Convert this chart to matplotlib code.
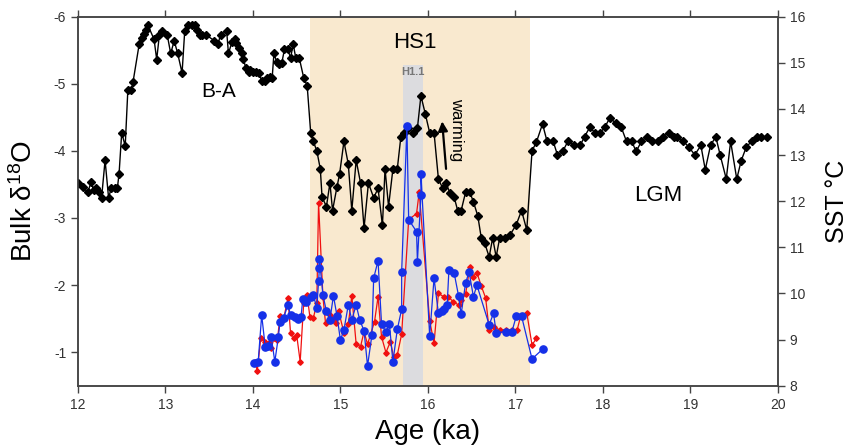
import matplotlib
matplotlib.use('Agg')
import matplotlib.pyplot as plt

plt.rcParams['font.family'] = ['Liberation Sans', 'DejaVu Sans']
plt.rcParams['mathtext.fontset'] = 'custom'
plt.rcParams['mathtext.rm'] = 'Liberation Sans'
plt.rcParams['mathtext.it'] = 'Liberation Sans'
plt.rcParams['axes.unicode_minus'] = False

# bulk d18O record (left axis)
d18o_age = [12.00, 12.06, 12.11, 12.15, 12.18, 12.21, 12.24, 12.27, 12.31, 12.35,
            12.38, 12.42, 12.45, 12.47, 12.50, 12.54, 12.57, 12.61, 12.63, 12.70,
            12.73, 12.75, 12.78, 12.80, 12.87, 12.90, 12.93, 12.96, 13.02, 13.06,
            13.10, 13.14, 13.19, 13.22, 13.26, 13.30, 13.34, 13.36, 13.39, 13.42,
            13.46, 13.56, 13.60, 13.63, 13.70, 13.72, 13.76, 13.79, 13.81, 13.84,
            13.87, 13.89, 13.92, 13.95, 13.97, 14.00, 14.04, 14.07, 14.10, 14.14,
            14.16, 14.19, 14.22, 14.24, 14.27, 14.30, 14.33, 14.36, 14.40, 14.43,
            14.46, 14.49, 14.53, 14.58, 14.62, 14.66, 14.69, 14.73, 14.77, 14.79,
            14.84, 14.88, 14.91, 14.96, 14.99, 15.04, 15.09, 15.13, 15.18, 15.23,
            15.27, 15.32, 15.38, 15.43, 15.48, 15.51, 15.55, 15.60, 15.65, 15.69,
            15.73, 15.77, 15.83, 15.88, 15.92, 15.97, 16.02, 16.07, 16.12, 16.17,
            16.21, 16.25, 16.30, 16.34, 16.38, 16.43, 16.48, 16.52, 16.57, 16.61,
            16.65, 16.70, 16.74, 16.78, 16.82, 16.88, 16.94, 17.01, 17.07, 17.13,
            17.19, 17.24, 17.31, 17.36, 17.43, 17.48, 17.54, 17.60, 17.67, 17.74,
            17.79, 17.85, 17.91, 17.97, 18.02, 18.08, 18.15, 18.21, 18.27, 18.33,
            18.38, 18.44, 18.50, 18.56, 18.63, 18.69, 18.75, 18.81, 18.85, 18.92,
            18.98, 19.05, 19.12, 19.17, 19.23, 19.29, 19.34, 19.41, 19.46, 19.53,
            19.58, 19.64, 19.70, 19.76, 19.81, 19.87]
d18o_val = [-3.52, -3.46, -3.38, -3.53, -3.41, -3.44, -3.39, -3.30, -3.86, -3.30,
            -3.44, -3.44, -3.44, -3.66, -4.27, -4.07, -4.90, -4.90, -5.03, -5.59,
            -5.68, -5.74, -5.80, -5.87, -5.66, -5.36, -5.72, -5.78, -5.73, -5.45,
            -5.64, -5.45, -5.16, -5.78, -5.87, -5.87, -5.87, -5.80, -5.73, -5.73,
            -5.73, -5.64, -5.59, -5.73, -5.78, -5.45, -5.62, -5.66, -5.60, -5.53,
            -5.46, -5.37, -5.23, -5.17, -5.21, -5.18, -5.17, -5.16, -5.04, -5.04,
            -5.08, -5.10, -5.09, -5.45, -5.33, -5.30, -5.31, -5.51, -5.51, -5.38,
            -5.59, -5.38, -5.38, -5.09, -4.97, -4.27, -4.14, -4.00, -3.73, -3.31,
            -3.17, -3.52, -3.11, -3.46, -3.65, -4.14, -3.80, -3.11, -3.86, -3.52,
            -2.85, -3.52, -3.30, -3.44, -2.89, -3.73, -3.17, -3.73, -3.73, -4.20,
            -4.27, -4.34, -4.27, -4.34, -4.82, -4.55, -4.27, -4.27, -3.58, -3.44,
            -3.52, -3.37, -3.31, -3.11, -3.11, -3.38, -3.38, -3.24, -3.03, -2.70,
            -2.62, -2.42, -2.70, -2.42, -2.70, -2.70, -2.75, -2.90, -3.11, -2.82,
            -4.00, -4.13, -4.40, -4.15, -4.15, -3.94, -3.99, -4.14, -4.08, -4.08,
            -4.21, -4.35, -4.27, -4.27, -4.35, -4.49, -4.41, -4.35, -4.14, -4.14,
            -3.99, -4.14, -4.21, -4.14, -4.14, -4.21, -4.27, -4.20, -4.21, -4.14,
            -4.06, -3.94, -4.08, -3.72, -4.08, -4.21, -3.94, -3.58, -4.14, -3.58,
            -3.85, -4.06, -4.14, -4.20, -4.20, -4.20]

# SST records (right axis)
red_age = [14.02, 14.05, 14.09, 14.14, 14.18, 14.21, 14.24, 14.28, 14.31, 14.35,
           14.40, 14.43, 14.47, 14.50, 14.54, 14.58, 14.62, 14.65, 14.69, 14.73,
           14.75, 14.80, 14.83, 14.88, 14.92, 14.95, 14.98, 15.04, 15.09, 15.13,
           15.18, 15.23, 15.27, 15.31, 15.39, 15.43, 15.47, 15.52, 15.57, 15.61,
           15.65, 15.70, 15.78, 15.87, 15.90, 16.02, 16.07, 16.12, 16.18, 16.23,
           16.29, 16.35, 16.38, 16.43, 16.48, 16.51, 16.56, 16.61, 16.66, 16.70,
           16.75, 16.82, 16.89, 16.96, 17.02, 17.06, 17.13, 17.19, 17.24]
red_sst = [8.52, 8.33, 9.04, 8.95, 8.93, 8.81, 9.03, 8.99, 9.52, 9.44,
           9.90, 9.14, 9.04, 9.10, 8.52, 9.79, 9.97, 9.50, 9.46, 9.79,
           11.97, 9.93, 9.35, 9.53, 9.45, 9.37, 9.61, 9.15, 9.33, 9.95,
           8.90, 8.85, 9.17, 8.90, 9.39, 9.93, 9.06, 8.72, 8.95, 8.62,
           8.67, 9.12, 11.60, 11.73, 12.19, 9.41, 8.92, 10.00, 9.93, 9.93,
           9.82, 9.75, 9.86, 9.98, 10.58, 10.36, 10.45, 10.16, 9.90, 9.21,
           9.28, 9.21, 9.21, 9.21, 9.21, 9.51, 9.58, 8.88, 9.03]

blue_age = [14.01, 14.06, 14.10, 14.14, 14.17, 14.21, 14.25, 14.29, 14.31, 14.35,
            14.40, 14.43, 14.48, 14.51, 14.55, 14.57, 14.61, 14.66, 14.69, 14.73,
            14.75, 14.76, 14.76, 14.80, 14.84, 14.88, 14.92, 14.96, 15.00, 15.04,
            15.09, 15.13, 15.18, 15.22, 15.27, 15.31, 15.36, 15.38, 15.43, 15.47,
            15.52, 15.56, 15.60, 15.65, 15.70, 15.70, 15.76, 15.78, 15.87, 15.88,
            15.92, 15.92, 16.02, 16.07, 16.12, 16.16, 16.18, 16.22, 16.24, 16.30,
            16.35, 16.38, 16.43, 16.47, 16.52, 16.56, 16.70, 16.75, 16.78, 16.89,
            16.96, 17.01, 17.07, 17.19, 17.31]
blue_sst = [8.49, 8.52, 9.53, 8.85, 8.86, 9.05, 8.52, 9.05, 9.39, 9.47,
            9.75, 9.53, 9.50, 9.45, 9.50, 9.88, 9.82, 9.93, 9.97, 9.68,
            10.26, 10.55, 10.75, 9.97, 9.61, 9.43, 9.95, 9.52, 8.99, 9.21,
            9.75, 9.43, 9.75, 9.43, 9.19, 8.43, 9.10, 10.33, 10.71, 9.33,
            9.17, 9.33, 8.52, 9.22, 9.66, 10.47, 13.62, 11.60, 11.34, 10.69,
            12.14, 12.59, 9.08, 10.33, 9.57, 9.61, 9.66, 9.75, 10.51, 10.44,
            9.95, 9.55, 10.22, 10.47, 9.93, 10.18, 9.32, 9.57, 9.15, 9.17,
            9.17, 9.51, 9.51, 8.58, 8.79]

hs1_span = (14.65, 17.17)
h11_span = (15.72, 15.94)
h11_top = -5.28

fig = plt.figure(figsize=(8.52, 4.48), dpi=100)
ax = fig.add_axes([0.0915, 0.139, 0.8215, 0.824])
ax2 = ax.twinx()

ax.axvspan(hs1_span[0], hs1_span[1], color='#f9e9cf', lw=0, zorder=0)
ax.fill_between(h11_span, -0.5, h11_top, color='#dcdcdf', lw=0, zorder=0.5)

ax.plot(d18o_age, d18o_val, color='black', lw=1.0, marker='D', ms=3.8, zorder=3)
ax2.plot(red_age, red_sst, color='#f01010', lw=0.9, marker='D', ms=2.8, zorder=3)
ax2.plot(blue_age, blue_sst, color='#1530e8', lw=0.9, marker='o', ms=5.2, zorder=4)

ax.set_xlim(12, 20)
ax.set_ylim(-0.5, -6)
ax2.set_ylim(8, 16)
ax.set_xticks(range(12, 21))
ax.set_yticks([-6, -5, -4, -3, -2, -1])
ax2.set_yticks(range(8, 17))

spine_col = '#444444'
for a in (ax, ax2):
    for s in a.spines.values():
        s.set_color(spine_col)
        s.set_linewidth(1.1)
    a.tick_params(colors=spine_col, labelcolor='#333333', labelsize=10,
                  direction='out', length=5, width=1)
ax.tick_params(axis='x', top=True, labeltop=False)
ax.tick_params(axis='y', right=False)

ax.set_xlabel('Age (ka)', fontsize=20)
ax.set_ylabel(r'Bulk δ$^{18}$O', fontsize=20)
ax2.set_ylabel('SST °C', fontsize=18)
ax.xaxis.set_label_coords(0.5, -0.09)
ax.yaxis.set_label_coords(-0.057, 0.5)
ax2.yaxis.set_label_coords(1.067, 0.5)

ax.text(15.85, -5.62, 'HS1', fontsize=16, ha='center', va='center')
ax.text(15.83, -5.17, 'H1.1', fontsize=8, color='#777777', fontweight='bold',
        ha='center', va='center')
ax.text(16.33, -4.31, 'warming', fontsize=12, rotation=270, ha='center', va='center')
ax.annotate('', xy=(16.16, -4.48), xytext=(16.21, -3.69),
            arrowprops=dict(arrowstyle='-|>', color='black', lw=1.6, mutation_scale=14))
ax.text(13.61, -4.88, 'B-A', fontsize=15, ha='center', va='center')
ax.text(18.63, -3.34, 'LGM', fontsize=16, ha='center', va='center')

plt.savefig('out.png', dpi=100)
